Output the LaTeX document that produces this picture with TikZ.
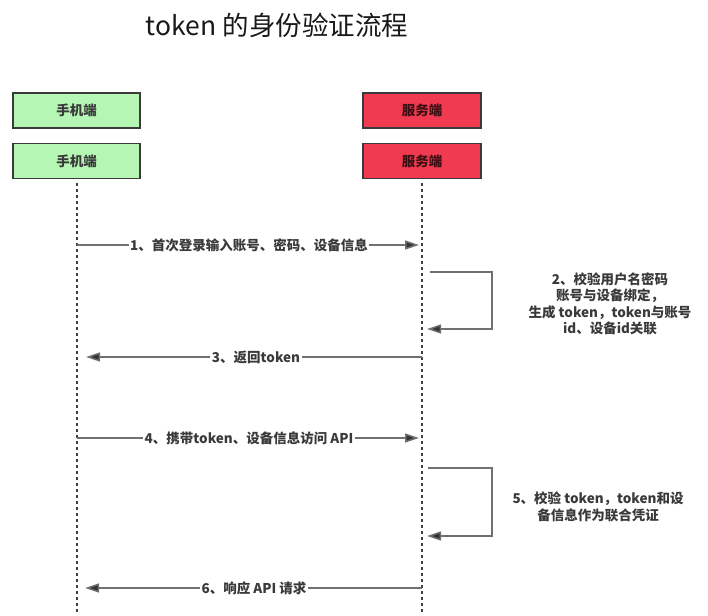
\documentclass[tikz,border=0pt]{standalone}
\usepackage{fontspec}
\setmainfont{Noto Sans CJK SC}
\usetikzlibrary{arrows.meta}
\definecolor{boxgreen}{HTML}{B5F6B5}
\definecolor{boxred}{HTML}{F03A50}
\definecolor{linegray}{HTML}{707070}
\definecolor{txtgray}{HTML}{3A3A3A}
\definecolor{dotgray}{HTML}{404040}
\begin{document}
\begin{tikzpicture}[x=1pt,y=-1pt,
  actor/.style={draw=txtgray, line width=1.8pt, minimum height=35pt, inner sep=0pt,
    font=\fontsize{13.5}{15}\selectfont\bfseries},
  phone/.style={actor, fill=boxgreen, minimum width=127pt, text=txtgray},
  server/.style={actor, fill=boxred, minimum width=118pt, text=black!75!boxred},
  lifeline/.style={draw=dotgray, line width=2.3pt, dash pattern=on 2.3pt off 3.7pt},
  msg/.style={draw=linegray, line width=1.5pt, -{Triangle[length=14pt,width=9pt,fill=black!80]}},
  msglabel/.style={fill=white, inner sep=1.5pt, text=txtgray, font=\fontsize{13.5}{15}\selectfont\bfseries},
  note/.style={align=center, text=txtgray, font=\fontsize{13.5}{16.5}\selectfont\bfseries},
  title/.style={font=\fontsize{26.5}{30}\selectfont, text=black!90}
]
\useasboundingbox (0,0) rectangle (708,615);

\node[title] (title) at (277,25) {token 的身份验证流程};

\node[phone] (p1) at (76.5,110.5) {手机端};
\node[phone] (p2) at (76.5,161) {手机端};
\node[server] (s1) at (422,110.5) {服务端};
\node[server] (s2) at (422,161) {服务端};

\coordinate (pend) at (77,615);
\coordinate (send) at (422,615);
\draw[lifeline] (p2.south -| pend) ++(0,4) -- (pend);
\draw[lifeline] (s2.south -| send) ++(0,4) -- (send);

% message 1
\coordinate (a1) at (77,245);
\coordinate (b1) at (419,245);
\draw[msg] (a1) -- (b1);
\node[msglabel] (m1) at (249,245) {1、首次登录输入账号、密码、设备信息};

% self message 2
\coordinate (c2a) at (430,272);
\coordinate (c2b) at (492,272);
\coordinate (c2c) at (492,329);
\coordinate (c2d) at (427,329);
\draw[msg] (c2a) -- (c2b) -- (c2c) -- (c2d);
\node[note] (m2) at (610,304) {2、校验用户名密码\\账号与设备绑定，\\生成 token，token与账号\\id、设备id关联};

% message 3
\coordinate (a3) at (422,357);
\coordinate (b3) at (86,357);
\draw[msg] (a3) -- (b3);
\node[msglabel] (m3) at (256,357) {3、返回token};

% message 4
\coordinate (a4) at (77,438);
\coordinate (b4) at (419,438);
\draw[msg] (a4) -- (b4);
\node[msglabel] (m4) at (249,438) {4、携带token、设备信息访问 API};

% self message 5
\coordinate (c5a) at (428,468);
\coordinate (c5b) at (492,468);
\coordinate (c5c) at (492,536);
\coordinate (c5d) at (427,536);
\draw[msg] (c5a) -- (c5b) -- (c5c) -- (c5d);
\node[note] (m5) at (598,507) {5、校验 token，token和设\\备信息作为联合凭证};

% message 6
\coordinate (a6) at (422,588);
\coordinate (b6) at (85,588);
\draw[msg] (a6) -- (b6);
\node[msglabel] (m6) at (254,588) {6、响应 API 请求};
\end{tikzpicture}
\end{document}
